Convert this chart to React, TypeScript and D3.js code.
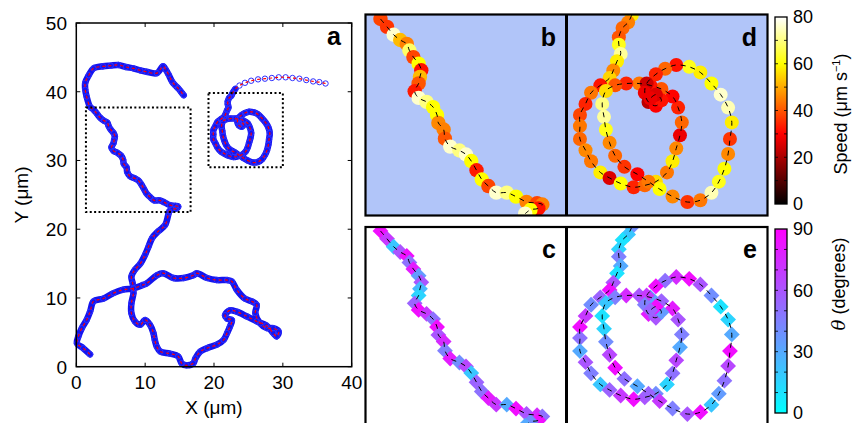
import React from 'react';
import * as d3 from 'd3';

const FONT = '"Liberation Sans", Arial, Helvetica, sans-serif';

// trajectory 1, from its start (bottom left) up to the box of panels b/c
const lowerX = [2.0, 1.0, 0.1, 0.3, 0.8, 1.5, 2.0, 2.5, 3.9, 5.4, 6.8, 8.3, 9.7, 10.2, 11.7, 12.6, 14.1, 15.6, 17.0, 17.5,
  19.0, 20.4, 21.9, 22.6, 23.3, 24.5, 25.5, 26.2, 26.0, 26.7, 27.7, 28.6, 29.4, 29.1, 28.6, 27.6, 26.2, 24.8, 23.3, 22.3,
  21.6, 21.9, 22.6, 22.3, 21.9, 21.4, 20.4, 19.0, 18.0, 17.3, 17.0, 16.0, 15.3, 14.8, 13.6, 12.2, 11.7, 11.4, 11.2, 10.7,
  10.0, 9.3, 8.5, 8.0, 8.0, 8.3, 8.2, 8.0, 8.5, 9.3, 10.0, 10.5, 11.0, 11.9, 12.9, 13.4];
const lowerY = [1.8, 2.7, 3.4, 4.4, 5.6, 6.8, 8.0, 9.5, 9.9, 10.7, 11.2, 11.4, 11.9, 12.1, 13.3, 13.6, 12.9, 12.9, 13.3, 13.6,
  12.9, 12.6, 12.6, 12.4, 11.2, 9.9, 9.5, 9.0, 7.8, 6.3, 5.6, 5.6, 5.1, 4.4, 4.9, 6.0, 6.6, 7.3, 8.0, 8.2,
  7.5, 7.0, 6.8, 5.8, 4.9, 3.9, 3.2, 2.7, 2.2, 1.2, 0.5, 0.2, 0.5, 1.5, 1.9, 2.2, 2.9, 3.9, 4.9, 6.1,
  6.8, 6.1, 6.6, 7.8, 9.2, 10.7, 12.1, 13.1, 14.1, 15.0, 16.3, 17.5, 18.7, 19.7, 20.6, 22.3];

// part of trajectory 1 inside the box (listed top to bottom)
const boxBX = [2.5, 3.0, 3.5, 4.0, 4.5, 4.7, 5.0, 5.4, 5.6, 5.5, 5.4, 5.1, 5.4, 6.0, 6.5, 6.8, 6.9, 7.3, 7.4, 7.8,
  8.5, 9.0, 9.4, 9.8, 10.2, 10.7, 11.3, 12.1, 12.8, 13.6, 14.4, 14.8, 14.5, 13.9, 13.5];
const boxBY = [37.4, 36.8, 36.2, 35.8, 35.5, 35.0, 34.5, 34.0, 33.5, 33.0, 32.5, 31.9, 31.4, 31.1, 30.7, 30.1, 29.5, 29.0, 28.3, 27.7,
  27.4, 27.1, 26.6, 25.9, 25.2, 24.7, 24.2, 24.2, 23.9, 23.5, 23.4, 23.3, 23.0, 22.9, 22.6];
const boxBSpeed = [38, 36, 76, 52, 45, 68, 38, 60, 32, 52, 40, 33, 76, 70, 60, 60, 46, 45, 40, 76,
  70, 76, 60, 33, 60, 38, 76, 70, 60, 45, 38, 45, 32, 60, 76];
const boxBTheta = [85, 70, 20, 60, 85, 50, 80, 35, 60, 25, 15, 55, 85, 70, 50, 85, 60, 75, 45, 80,
  40, 65, 20, 55, 50, 80, 70, 30, 85, 60, 75, 50, 85, 40, 30];

// trajectory 1 above the box, to its end
const upperX = [2.0, 1.5, 1.3, 1.3, 1.8, 2.5, 3.9, 5.0, 6.1, 7.2, 8.3, 9.3, 10.2, 11.7, 12.6, 13.0, 13.4, 13.9, 14.3, 14.8, 15.2, 15.6];
const upperY = [37.8, 39.3, 40.3, 41.3, 42.4, 43.4, 43.7, 43.8, 43.9, 43.6, 43.4, 43.1, 42.9, 42.7, 43.7, 43.2, 42.5, 41.5, 41.0, 40.5, 40.0, 39.5];

// trajectory 2: tail coming in from the right
const tailX = [36.2, 35.3, 34.4, 33.4, 32.4, 31.4, 30.4, 29.4, 28.4, 27.4, 26.4, 25.4, 24.5, 23.7, 23.1];
const tailY = [41.2, 41.4, 41.5, 41.7, 41.9, 42.0, 42.1, 42.1, 42.0, 41.9, 41.8, 41.6, 41.3, 40.9, 40.4];

// trajectory 2 inside the box of panels d/e
const spiralX = [22.7, 22.5, 22.2, 22.0, 22.0, 22.1, 21.9, 21.7, 21.5,
  21.0, 20.5, 20.2, 19.9, 19.9, 19.9, 20.2, 20.5, 21.0, 21.5,
  22.1, 22.8, 23.4, 24.0, 24.6, 24.9, 25.1, 25.3, 25.4, 25.2,
  24.9, 24.3, 23.7, 23.1, 22.4, 21.8, 21.3, 21.1, 21.2, 21.3,
  21.5, 21.8, 22.3, 23.0, 23.6, 24.2, 24.9, 25.7, 26.4, 27.0,
  27.4, 27.7, 27.9, 28.0, 28.1, 27.9, 27.5, 27.0, 26.4, 25.8,
  25.1, 24.5, 24.0, 23.5, 23.4, 23.6, 24.0, 24.3, 24.0, 23.7];
const spiralY = [39.8, 39.4, 39.1, 38.6, 38.2, 37.7, 37.3, 36.8, 36.4,
  36.0, 35.6, 35.0, 34.4, 33.8, 33.1, 32.5, 31.9, 31.3, 31.0,
  30.7, 30.5, 30.6, 30.8, 31.3, 31.9, 32.6, 33.3, 34.0, 34.8,
  35.4, 35.8, 36.0, 36.1, 36.1, 36.0, 35.7, 35.0, 34.3, 33.6,
  32.9, 32.2, 31.6, 31.2, 30.8, 30.4, 30.0, 29.7, 29.8, 30.2,
  30.8, 31.5, 32.3, 33.1, 34.0, 34.8, 35.5, 36.1, 36.7, 37.0,
  37.1, 36.9, 36.6, 36.1, 35.6, 35.1, 34.9, 35.2, 35.5, 35.3];
const spiralSpeed = [58, 45, 42, 40, 62, 72, 58, 46, 55,
  32, 44, 34, 38, 44, 42, 46, 44, 58, 26,
  60, 34, 42, 56, 44, 58, 46, 28, 42, 34,
  30, 40, 32, 44, 34, 40, 56, 70, 72, 62,
  46, 42, 36, 30, 44, 60, 46, 36, 44, 74,
  62, 60, 46, 36, 58, 74, 76, 60, 58, 62,
  32, 42, 34, 24, 28, 22, 30, 32, 26, 28];
const spiralTheta = [40, 20, 10, 15, 45, 30, 10, 60, 85,
  55, 40, 70, 85, 50, 30, 60, 45, 20, 55,
  70, 85, 60, 40, 15, 50, 65, 30, 45, 60,
  80, 55, 35, 60, 75, 45, 20, 10, 15, 40,
  65, 85, 50, 30, 55, 70, 45, 60, 85, 20,
  35, 50, 65, 85, 30, 15, 10, 40, 60, 85,
  75, 50, 85, 70, 45, 80, 60, 35, 85, 55];

const xTicks = [0, 10, 20, 30, 40];
const yTicks = [0, 10, 20, 30, 40, 50];
const speedTicks = [0, 20, 40, 60, 80];
const thetaTicks = [0, 30, 60, 90];

// zoom boxes (µm)
const boxB = { x: [1.4, 16.6], y: [22.5, 37.7] };
const boxD = { x: [19.2, 30.0], y: [29.0, 39.8] };

type Pt = [number, number];
const zip = (xs: number[], ys: number[]): Pt[] => xs.map((x, i) => [x, ys[i]]);

const clamp = (v: number) => Math.max(0, Math.min(1, v));
const hot = (t: number) =>
  d3.rgb(255 * clamp(t / 0.375), 255 * clamp((t - 0.375) / 0.375), 255 * clamp((t - 0.75) / 0.25)).toString();
const cool = (t: number) => d3.rgb(255 * t, 255 * (1 - t), 255).toString();

const speedColor = d3.scaleSequential(hot).domain([0, 80]);
const thetaColor = d3.scaleSequential(cool).domain([0, 90]);

const smooth = d3.line<Pt>().curve(d3.curveCatmullRom.alpha(0.5));

const mainTrack: Pt[] = [
  ...zip(lowerX, lowerY),
  ...zip(boxBX, boxBY).reverse(),
  ...zip(upperX, upperY),
];
const tailTrack: Pt[] = zip(tailX, tailY);
const spiralTrack: Pt[] = zip(spiralX, spiralY);

const diamond = d3.symbol().type(d3.symbolSquare).size(125)() as string;

function ZoomPanel({ id, box, left, top, pts, vals, kind, label, r }: {
  id: string; box: { x: number[]; y: number[] }; left: number; top: number;
  pts: Pt[]; vals: number[]; kind: 'speed' | 'theta'; label: string; r: number;
}) {
  const size = 200;
  const sx = d3.scaleLinear().domain(box.x).range([left, left + size]);
  const sy = d3.scaleLinear().domain(box.y).range([top + size, top]);
  const proj = pts.map(([x, y]) => [sx(x), sy(y)] as Pt);
  return (
    <g>
      <clipPath id={id}>
        <rect x={left} y={top} width={size} height={size} />
      </clipPath>
      <rect x={left} y={top} width={size} height={size} fill={kind === 'speed' ? '#b1c5f9' : '#ffffff'} />
      <g clipPath={`url(#${id})`}>
        {proj.map(([x, y], i) =>
          kind === 'speed' ? (
            <circle key={i} cx={x} cy={y} r={r} fill={speedColor(vals[i])} />
          ) : (
            <path key={i} d={diamond} transform={`translate(${x},${y}) rotate(45)`} fill={thetaColor(vals[i])} />
          )
        )}
        <path d={smooth(proj) ?? ''} fill="none" stroke="#000" strokeWidth={1} strokeDasharray="5,5" />
      </g>
      <text x={left + size - 10} y={top + 31} textAnchor="end" fontFamily={FONT} fontWeight="bold" fontSize={25}>
        {label}
      </text>
    </g>
  );
}

function ColorBar({ id, top, bottom, max, ticks, color, step }: {
  id: string; top: number; bottom: number; max: number; ticks: number[];
  color: (v: number) => string; step: number;
}) {
  const x0 = 775, w = 12;
  const sy = d3.scaleLinear().domain([0, max]).range([bottom, top]);
  const stops = d3.range(0, 1.0001, 0.025);
  return (
    <g>
      <defs>
        <linearGradient id={id} x1="0" y1="1" x2="0" y2="0">
          {stops.map((t) => (
            <stop key={t} offset={t} stopColor={color(t * max)} />
          ))}
        </linearGradient>
      </defs>
      <rect x={x0} y={top} width={w} height={bottom - top} fill={`url(#${id})`} stroke="#000" strokeWidth={1.3} />
      {d3.range(step, max, step).map((v) => (
        <g key={v}>
          <line x1={x0} x2={x0 + 3} y1={sy(v)} y2={sy(v)} stroke="#000" strokeWidth={0.8} />
          <line x1={x0 + w - 3} x2={x0 + w} y1={sy(v)} y2={sy(v)} stroke="#000" strokeWidth={0.8} />
        </g>
      ))}
      {ticks.map((v) => (
        <text key={v} x={793} y={sy(v)} dy="0.36em" fontFamily={FONT} fontSize={18}>
          {v}
        </text>
      ))}
    </g>
  );
}

export default function App() {
  const xA = d3.scaleLinear().domain([0, 40]).range([76.3, 351.7]);
  const yA = d3.scaleLinear().domain([0, 50]).range([366.7, 23]);
  const projA = (p: Pt[]) => p.map(([x, y]) => [xA(x), yA(y)] as Pt);
  const mainA = projA(mainTrack);
  const spiralA = projA([tailTrack[tailTrack.length - 1], ...spiralTrack]);
  const tailA = projA(tailTrack);
  const allA = [...mainA, ...tailA, ...projA(spiralTrack)];
  const dashedA = [smooth(mainA), smooth(projA([...tailTrack, ...spiralTrack]))];

  const boxRect = (b: { x: number[]; y: number[] }) => ({
    x: xA(b.x[0]), y: yA(b.y[1]), width: xA(b.x[1]) - xA(b.x[0]), height: yA(b.y[0]) - yA(b.y[1]),
  });
  const rb = boxRect(boxB), rd = boxRect(boxD);

  return (
    <svg width={855} height={423} style={{ position: 'absolute', left: 0, top: 0, background: '#fff' }}>
      {/* panel a */}
      <g>
        <path d={smooth(mainA) ?? ''} fill="none" stroke="#1414ee" strokeWidth={6.5} strokeLinejoin="round" strokeLinecap="round" />
        <path d={smooth(spiralA) ?? ''} fill="none" stroke="#1414ee" strokeWidth={6.5} strokeLinejoin="round" strokeLinecap="round" />
        {allA.map(([x, y], i) => (
          <circle key={i} cx={x} cy={y} r={2.7} fill="none" stroke="#2f2fff" strokeWidth={1} />
        ))}
        {dashedA.map((d, i) => (
          <path key={i} d={d ?? ''} fill="none" stroke="#ff0000" strokeWidth={1.2} strokeDasharray="3,3" />
        ))}
        {[rb, rd].map((r, i) => (
          <rect key={i} {...r} fill="none" stroke="#000" strokeWidth={2} strokeDasharray="2,2.4" />
        ))}
        <rect x={76.3} y={23} width={275.4} height={343.7} fill="none" stroke="#000" strokeWidth={1.5} />
        {xTicks.map((v) => (
          <g key={v}>
            <line x1={xA(v)} x2={xA(v)} y1={366.7} y2={362.7} stroke="#000" />
            <line x1={xA(v)} x2={xA(v)} y1={23} y2={27} stroke="#000" />
            <text x={xA(v)} y={389} textAnchor="middle" fontFamily={FONT} fontSize={19}>{v}</text>
          </g>
        ))}
        {yTicks.map((v) => (
          <g key={v}>
            <line x1={76.3} x2={80.3} y1={yA(v)} y2={yA(v)} stroke="#000" />
            <line x1={351.7} x2={347.7} y1={yA(v)} y2={yA(v)} stroke="#000" />
            <text x={67} y={yA(v)} dy="0.36em" textAnchor="end" fontFamily={FONT} fontSize={19}>{v}</text>
          </g>
        ))}
        <text x={214} y={414} textAnchor="middle" fontFamily={FONT} fontSize={19}>X (μm)</text>
        <text transform="translate(28,195) rotate(-90)" textAnchor="middle" fontFamily={FONT} fontSize={19}>Y (μm)</text>
        <text x={341} y={45} textAnchor="end" fontFamily={FONT} fontWeight="bold" fontSize={25}>a</text>
      </g>

      {/* zoomed panels */}
      <ZoomPanel id="cb" box={boxB} left={366} top={15} pts={zip(boxBX, boxBY)} vals={boxBSpeed} kind="speed" label="b" r={7.2} />
      <ZoomPanel id="cd" box={boxD} left={567} top={15} pts={spiralTrack} vals={spiralSpeed} kind="speed" label="d" r={7} />
      <ZoomPanel id="cc" box={boxB} left={366} top={227} pts={zip(boxBX, boxBY)} vals={boxBTheta} kind="theta" label="c" r={7} />
      <ZoomPanel id="ce" box={boxD} left={567} top={227} pts={spiralTrack} vals={spiralTheta} kind="theta" label="e" r={7} />
      <rect x={365.5} y={14.5} width={402} height={201} fill="none" stroke="#000" strokeWidth={2.2} />
      <line x1={566.5} x2={566.5} y1={14.5} y2={215.5} stroke="#000" strokeWidth={3} />
      <rect x={365.5} y={227} width={402} height={201} fill="none" stroke="#000" strokeWidth={2.2} />
      <line x1={566.5} x2={566.5} y1={227} y2={428} stroke="#000" strokeWidth={3} />

      {/* colour bars */}
      <ColorBar id="gs" top={17} bottom={204} max={80} ticks={speedTicks} color={speedColor} step={10} />
      <ColorBar id="gt" top={229} bottom={413} max={90} ticks={thetaTicks} color={thetaColor} step={10} />
      <text transform="translate(847,114) rotate(-90)" textAnchor="middle" fontFamily={FONT} fontSize={18}>
        Speed (μm s<tspan dy={-7} fontSize={11}>−1</tspan><tspan dy={7}>)</tspan>
      </text>
      <text transform="translate(845,284) rotate(-90)" textAnchor="middle" fontFamily={FONT} fontSize={18}>
        <tspan fontStyle="italic" fontFamily="'DejaVu Serif', serif">θ</tspan> (degrees)
      </text>
    </svg>
  );
}
